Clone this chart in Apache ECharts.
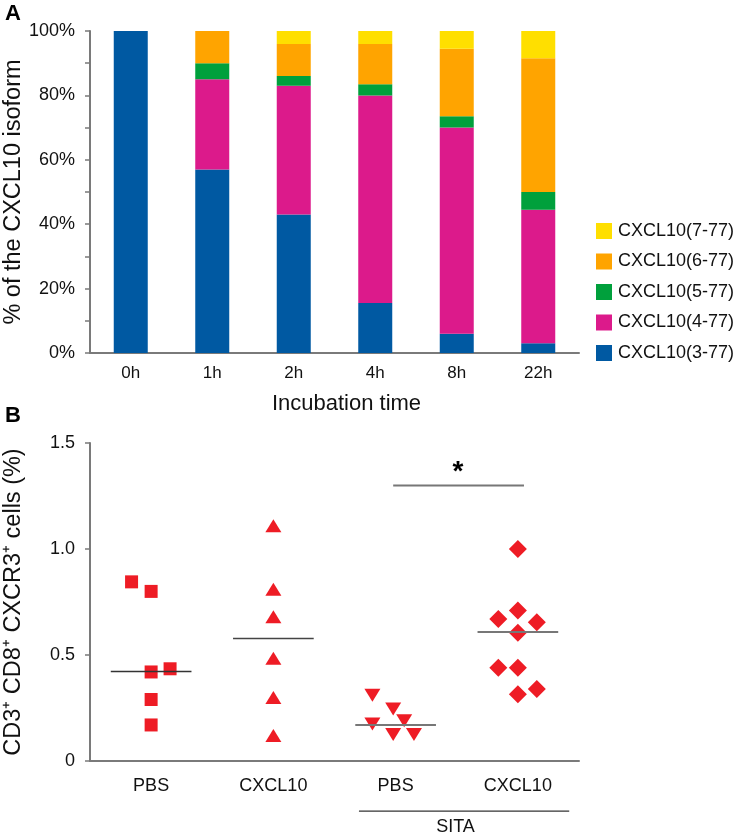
<!DOCTYPE html>
<html>
<head>
<meta charset="utf-8">
<script src="https://cdn.jsdelivr.net/npm/echarts@6/dist/echarts.min.js"></script>
<style>
html,body{margin:0;padding:0;background:#fff}
#main{width:737px;height:835px}
</style>
</head>
<body>
<div id="main"></div>
<script>
// A: share of each CXCL10 isoform per incubation time (%)
const times = ['0h', '1h', '2h', '4h', '8h', '22h'];
const iso3 = [100, 57, 43, 15.5, 6, 3];
const iso4 = [0, 28, 40, 64.5, 64, 41.5];
const iso5 = [0, 5, 3, 3.5, 3.5, 5.5];
const iso6 = [0, 10, 10, 12.5, 21, 41.5];
const iso7 = [0, 0, 4, 4, 5.5, 8.5];
const isoNames = ['CXCL10(3-77)', 'CXCL10(4-77)', 'CXCL10(5-77)', 'CXCL10(6-77)', 'CXCL10(7-77)'];
const isoColors = ['#0059a2', '#dc1a8b', '#00a03c', '#ffa400', '#ffdf00'];

// B: CD3+ CD8+ CXCR3+ cells (%), [offset inside group, value]
const groups = ['PBS', 'CXCL10', 'PBS', 'CXCL10'];
const pbsPts = [[-0.16, 0.845], [0, 0.80], [0, 0.42], [0.155, 0.435], [0, 0.29], [0, 0.17]];
const cxclPts = [[0, 1.11], [0, 0.81], [0, 0.68], [0, 0.485], [0, 0.30], [0, 0.12]];
const sitaPbsPts = [[-0.19, 0.31], [-0.02, 0.245], [0.07, 0.19], [-0.19, 0.175], [-0.02, 0.125], [0.15, 0.125]];
const sitaCxclPts = [[0, 1.0], [0, 0.71], [-0.16, 0.67], [0.155, 0.655], [0, 0.605], [-0.16, 0.44], [0, 0.44], [0, 0.315], [0.155, 0.34]];
const medians = [0.425, 0.58, 0.172, 0.608];

const font = "'Liberation Sans', Arial, sans-serif";
const axisGray = '#7a7a7a';
const red = '#ee1c25';

var chart = echarts.init(document.getElementById('main'));

const isoData = [iso3, iso4, iso5, iso6, iso7];
const barSeries = isoData.map((d, i) => ({
  name: isoNames[i],
  type: 'bar',
  stack: 'iso',
  xAxisIndex: 0,
  yAxisIndex: 0,
  barWidth: 34,
  data: d,
  itemStyle: { color: isoColors[i] },
  silent: true
}));

function scatterSeries(pts, g, symbol, size, rotate, lineColor, lineWidth) {
  return {
    type: 'scatter',
    xAxisIndex: 2,
    yAxisIndex: 1,
    symbol: symbol,
    symbolSize: size,
    symbolRotate: rotate,
    itemStyle: { color: red, opacity: 1 },
    data: pts.map(p => [g + 0.5 + p[0], p[1]]),
    markLine: {
      silent: true,
      symbol: ['none', 'none'],
      label: { show: false },
      lineStyle: { color: lineColor, width: lineWidth, type: 'solid' },
      emphasis: { disabled: true },
      data: [[{ coord: [g + 0.5 - 0.33, medians[g]] }, { coord: [g + 0.5 + 0.33, medians[g]] }]]
    }
  };
}

var option = {
  animation: false,
  textStyle: { fontFamily: font },
  grid: [
    { left: 90, top: 31, width: 489, height: 322, outerBoundsMode: 'none' },
    { left: 90, top: 443, width: 489, height: 318, outerBoundsMode: 'none' }
  ],
  legend: {
    orient: 'vertical',
    left: 591,
    top: 217,
    itemWidth: 16,
    itemHeight: 16,
    itemGap: 12.5,
    icon: 'rect',
    data: isoNames.slice().reverse(),
    textStyle: { fontSize: 18, color: '#111', fontFamily: font, padding: [0, 0, 0, 1] },
    selectedMode: false
  },
  xAxis: [
    {
      gridIndex: 0,
      type: 'category',
      data: times,
      boundaryGap: true,
      axisLine: { lineStyle: { color: axisGray, width: 2 } },
      axisTick: { length: 6, lineStyle: { color: axisGray, width: 1.5 } },
      axisLabel: { fontSize: 17, color: '#111', margin: 12 },
      name: 'Incubation time',
      nameLocation: 'middle',
      nameGap: 40,
      nameMoveOverlap: false,
      nameTextStyle: { fontSize: 22, color: '#111', padding: [0, 0, 0, 24] }
    },
    {
      gridIndex: 1,
      type: 'category',
      data: groups,
      boundaryGap: true,
      axisLine: { lineStyle: { color: axisGray, width: 2 } },
      axisTick: { alignWithLabel: true, length: 6, lineStyle: { color: axisGray, width: 1.5 } },
      axisLabel: { fontSize: 18, color: '#111', margin: 16 }
    },
    {
      gridIndex: 1,
      type: 'value',
      min: 0,
      max: 4,
      show: false
    }
  ],
  yAxis: [
    {
      gridIndex: 0,
      type: 'value',
      min: 0,
      max: 100,
      interval: 20,
      axisLine: { show: true, lineStyle: { color: axisGray, width: 2 } },
      axisTick: { show: true, length: 5, lineStyle: { color: axisGray, width: 1.5 } },
      minorTick: { show: true, splitNumber: 2, length: 5, lineStyle: { color: axisGray, width: 1.5 } },
      splitLine: { show: false },
      axisLabel: { formatter: '{value}%', fontSize: 18, color: '#111', margin: 15 },
      name: '% of the CXCL10 isoform',
      nameLocation: 'middle',
      nameGap: 64,
      nameMoveOverlap: false,
      nameTextStyle: { fontSize: 23.5, color: '#111' }
    },
    {
      gridIndex: 1,
      type: 'value',
      min: 0,
      max: 1.5,
      interval: 0.5,
      axisLine: { show: true, lineStyle: { color: axisGray, width: 2 } },
      axisTick: { show: true, length: 5, lineStyle: { color: axisGray, width: 1.5 } },
      splitLine: { show: false },
      axisLabel: {
        fontSize: 18, color: '#111', margin: 15,
        formatter: v => (v === 0 ? '0' : v.toFixed(1))
      },
      name: 'CD3\u207A CD8\u207A CXCR3\u207A cells (%)',
      nameLocation: 'middle',
      nameGap: 64,
      nameMoveOverlap: false,
      nameTextStyle: { fontSize: 23.5, color: '#111' }
    }
  ],
  series: barSeries.concat([
    scatterSeries(pbsPts, 0, 'rect', 13, 0, '#333', 1.3),
    scatterSeries(cxclPts, 1, 'triangle', [16, 13], 0, '#444', 1.3),
    scatterSeries(sitaPbsPts, 2, 'triangle', [16, 13], 180, '#777', 2),
    scatterSeries(sitaCxclPts, 3, 'diamond', 18, 0, '#777', 2)
  ])
};
option && chart.setOption(option);

// annotations of panel B, placed through the scatter axes
const px = (x, y) => chart.convertToPixel({ seriesIndex: 5 }, [x, y]);
const sigL = px(2.48, 1.30), sigR = px(3.55, 1.30), star = px(3.01, 1.30);
const sitaL = px(2.2, -0.236), sitaR = px(3.92, -0.236), sitaT = px(2.99, -0.31);

chart.setOption({
  graphic: [
    { type: 'text', left: 5, top: 3, style: { text: 'A', font: 'bold 22px ' + font, fill: '#000' } },
    { type: 'text', left: 5, top: 405, style: { text: 'B', font: 'bold 22px ' + font, fill: '#000' } },
    { type: 'line', shape: { x1: sigL[0], y1: sigL[1], x2: sigR[0], y2: sigR[1] }, style: { stroke: '#777', lineWidth: 2 } },
    { type: 'text', x: star[0], y: star[1] - 13, style: { text: '*', font: 'bold 28px ' + font, fill: '#000', align: 'center', verticalAlign: 'middle' } },
    { type: 'line', shape: { x1: sitaL[0], y1: sitaL[1], x2: sitaR[0], y2: sitaR[1] }, style: { stroke: '#333', lineWidth: 1.3 } },
    { type: 'text', x: sitaT[0], y: sitaT[1], style: { text: 'SITA', font: '18px ' + font, fill: '#111', align: 'center', verticalAlign: 'middle' } }
  ]
});
</script>
</body>
</html>
